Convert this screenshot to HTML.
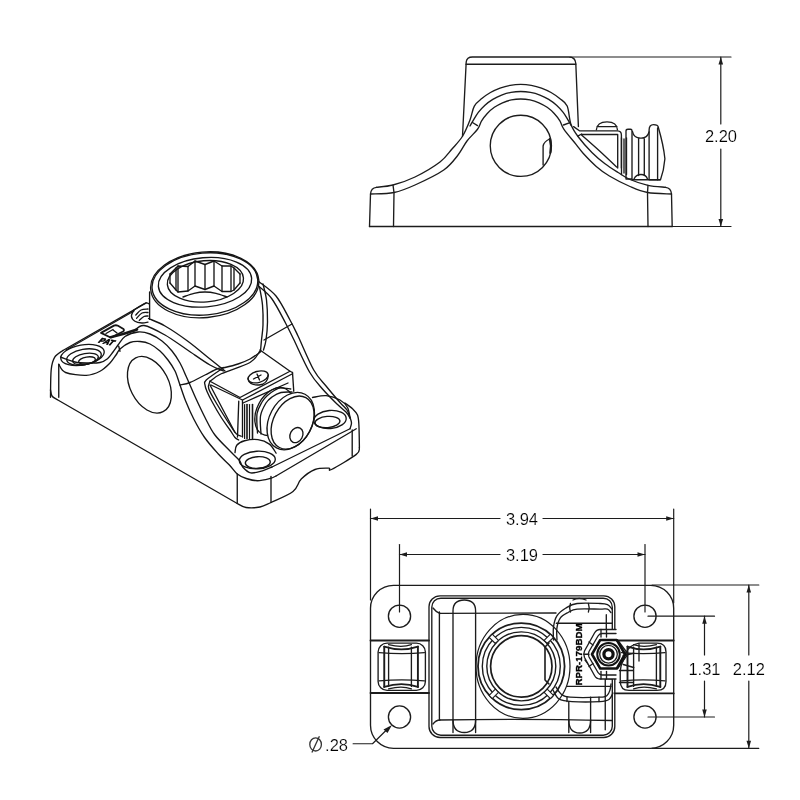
<!DOCTYPE html>
<html><head><meta charset="utf-8">
<style>
html,body{margin:0;padding:0;background:#fff;width:800px;height:800px;overflow:hidden}
svg{display:block;filter:blur(0.3px)}
.t{font-family:"Liberation Sans",sans-serif;font-size:16.5px;fill:#000;stroke:#fff;stroke-width:0.18px}
</style></head><body>
<svg width="800" height="800" viewBox="0 0 800 800">
<g fill="none" stroke="#1c1c1c" stroke-width="1.35" stroke-linejoin="round" stroke-linecap="round">
<path d="M369.50 226.50 L672.20 226.50"/>
<path d="M369.5 226.5 L370.5 194 Q371 187.8 376.5 187.3"/>
<path d="M672.2 226.5 L671.5 194 Q671 187.8 665.5 187.3"/>
<path d="M376.50 187.30 C379.25 186.92 386.58 186.72 393.00 185.00 C399.42 183.28 407.17 180.83 415.00 177.00 C422.83 173.17 433.83 166.67 440.00 162.00 C446.17 157.33 448.25 153.29 452.00 149.00 C455.75 144.71 459.50 141.08 462.50 136.25 C465.50 131.42 468.03 125.03 470.00 120.00 C471.97 114.97 472.36 109.62 474.33 106.05 C476.29 102.48 479.11 100.83 481.80 98.58 C484.48 96.32 487.41 94.27 490.45 92.52 C493.49 90.77 496.73 89.25 500.02 88.05 C503.32 86.85 506.77 85.93 510.23 85.32 C513.68 84.71 517.24 84.40 520.75 84.40 C524.26 84.40 527.82 84.71 531.27 85.32 C534.73 85.93 538.18 86.85 541.48 88.05 C544.77 89.25 548.01 90.77 551.05 92.52 C554.09 94.27 557.02 96.32 559.70 98.58 C562.39 100.83 565.29 101.74 567.17 106.05 C569.06 110.35 569.07 119.16 571.00 124.40 C572.93 129.64 575.27 132.83 578.75 137.50 C582.23 142.17 587.52 148.03 591.90 152.40 C596.27 156.78 600.63 160.40 605.00 163.75 C609.37 167.10 613.93 169.88 618.10 172.50 C622.27 175.12 625.02 177.37 630.00 179.50 C634.98 181.63 642.08 184.00 648.00 185.30 C653.92 186.60 662.58 186.97 665.50 187.30" />
<path d="M470.00 126.00 C470.51 125.12 471.70 122.97 473.08 120.71 C474.47 118.45 476.33 115.01 478.31 112.43 C480.28 109.85 482.54 107.42 484.95 105.24 C487.37 103.07 490.03 101.08 492.80 99.38 C495.57 97.69 498.54 96.22 501.58 95.05 C504.61 93.89 507.80 92.99 511.00 92.40 C514.20 91.80 517.50 91.50 520.75 91.50 C524.00 91.50 527.30 91.80 530.50 92.40 C533.70 92.99 536.89 93.89 539.92 95.05 C542.96 96.22 545.93 97.69 548.70 99.38 C551.47 101.08 554.13 103.07 556.55 105.24 C558.96 107.42 561.22 109.85 563.19 112.43 C565.17 115.01 567.03 118.45 568.42 120.71 C569.80 122.97 570.99 125.12 571.50 126.00" />
<path d="M370.50 194.00 C374.42 193.75 386.58 194.00 394.00 192.50 C401.42 191.00 406.71 188.75 415.00 185.00 C423.29 181.25 436.58 175.00 443.75 170.00 C450.92 165.00 454.12 159.83 458.00 155.00 C461.88 150.17 463.75 145.29 467.00 141.00 C470.25 136.71 475.09 132.63 477.52 129.27 C479.96 125.91 479.97 123.49 481.60 120.85 C483.23 118.21 485.16 115.69 487.29 113.43 C489.42 111.18 491.83 109.10 494.37 107.32 C496.91 105.54 499.68 103.99 502.53 102.76 C505.38 101.53 508.41 100.58 511.45 99.95 C514.48 99.32 517.65 99.00 520.75 99.00 C523.85 99.00 527.02 99.32 530.05 99.95 C533.09 100.58 536.12 101.53 538.97 102.76 C541.82 103.99 544.59 105.54 547.13 107.32 C549.67 109.10 552.08 111.18 554.21 113.43 C556.34 115.69 558.27 118.21 559.90 120.85 C561.53 123.49 561.25 125.31 563.98 129.27 C566.70 133.23 573.06 140.60 576.25 144.60 C579.44 148.60 579.77 149.62 583.10 153.25 C586.43 156.88 591.87 162.61 596.25 166.40 C600.63 170.19 603.77 172.65 609.40 176.00 C615.02 179.35 623.65 183.75 630.00 186.50 C636.35 189.25 640.58 191.25 647.50 192.50 C654.42 193.75 667.50 193.75 671.50 194.00" />
<path d="M393.00 185.20 L394.00 192.50 L393.50 226.50"/>
<path d="M648.00 185.30 L647.50 192.50 L648.00 226.50"/>
<path d="M472.50 122.50 L477.50 125.60"/>
<path d="M563.50 125.00 L569.30 122.80"/>
<circle cx="520.85" cy="145.8" r="30.6"/>
<path d="M543.1 165 V146 Q544 141.5 549.7 139"/>
<path d="M549.7 139 Q551.8 146 550.2 153" stroke-width="2"/>
<path d="M462.5 136.25 L466.2 62 Q466.7 57 472.5 57 H569 Q575.3 57 575.8 63.5 L578.4 126.6"/>
<path d="M466.00 64.20 L575.80 64.20"/>
<path d="M573.6 126.6 L579.4 130.8 H617.7 Q621.4 131 621.4 135 V168"/>
<path d="M581.60 134.50 L617.70 134.50 L617.70 168.00"/>
<path d="M581.60 135.00 C584.60 137.67 593.77 145.67 599.60 151.00 C605.43 156.33 613.77 164.33 616.60 167.00" />
<path d="M577.80 136.10 L581.60 134.00"/>
<path d="M596.4 129.8 Q597 121.8 607 121.8 Q617 121.8 617.4 129.8 M597 126.6 H617"/>
<path d="M621.5 137.8 V174.5 M624 139 V173 M626.5 137.8 V174.5"/>
<path d="M626 179 V131 Q626 129.2 628 129.2 H630.5 Q632 129.2 632 131 V179 Z"/>
<path d="M632.5 131.5 C634 140 647 140.5 649 132 M632 179.7 H660 M638.6 139 V175.5 M644.3 139 V175.5"/>
<path d="M634 179 Q636 174.5 641 174.5 Q646 174.5 647.5 179"/>
<path d="M649.1 179.7 V130 Q649.1 124.6 653.5 124.6 Q657.9 124.6 658.2 127 Q663.5 145 664.9 158.75 Q664 170 660.5 179.7 Z"/>
<path d="M657.60 128.00 L657.60 179.70"/>
<rect x="370.50" y="585.30" width="303.20" height="163.00" rx="23.00"/>
<circle cx="399.50" cy="616.20" r="11.1"/>
<circle cx="645.00" cy="616.20" r="11.1"/>
<circle cx="399.50" cy="717.00" r="11.1"/>
<circle cx="645.00" cy="717.00" r="11.1"/>
<path d="M370.5 640.5 H429 M370.5 693 H429" stroke-width="1.8"/>
<path d="M614.8 640.5 H673.7 M614.8 693.4 H673.7" stroke-width="1.8"/>
<rect x="378.10" y="643.10" width="47.30" height="47.30" rx="9.00"/>
<path d="M379.10 652.60 Q401.75 654.60 424.40 652.60 M379.10 680.90 Q401.75 678.90 424.40 680.90"/>
<path d="M384.25 646.60 V686.90 M417.90 646.60 V686.90" stroke-width="1.9"/>
<path d="M388.60 647.10 V686.40 M411.40 647.10 V686.40"/>
<path d="M384.25 646.60 Q401.75 652.10 417.90 646.60 M384.25 686.90 Q401.75 681.40 417.90 686.90" stroke-width="1.9"/>
<path d="M388.60 644.60 Q401.75 648.10 411.40 644.60 M388.60 688.90 Q401.75 685.40 411.40 688.90"/>
<path d="M639 643.1 H657 Q666 643.1 666 652 V681.5 Q666 690.4 657 690.4 H629 Q620.25 690.4 620.25 681 V671 Q620.5 666 623 661 L626 653 Q629 645 639 643.1 Z"/>
<path d="M621.50 652.60 Q643.25 654.60 665.00 652.60 M621.50 680.90 Q643.25 678.90 665.00 680.90"/>
<path d="M627.50 646.60 V686.90 M660.30 646.60 V686.90" stroke-width="1.9"/>
<path d="M633.60 647.10 V686.40 M656.40 647.10 V686.40"/>
<path d="M627.50 646.60 Q643.25 652.10 660.30 646.60 M627.50 686.90 Q643.25 681.40 660.30 686.90" stroke-width="1.9"/>
<path d="M633.60 644.60 Q643.25 648.10 656.40 644.60 M633.60 688.90 Q643.25 685.40 656.40 688.90"/>
<path d="M623.25 655.5 L633.75 653.25 M623.25 664.5 L633.75 667.5 M619.5 670.5 H633 M619.5 682.5 H633 M639 644 V661"/>
<rect x="429.00" y="595.80" width="185.80" height="141.70" rx="11.00"/>
<rect x="431.80" y="598.20" width="180.50" height="137.00" rx="9.00"/>
<path d="M439.4 612 V720 M439.4 613.3 Q500 613 556 613 M439.4 720 Q520 718.5 612 720.5"/>
<path d="M433 608 Q436 612 440 613.5 M433 724 Q436 720 440 720"/>
<path d="M453 732.5 V611 Q453 600 464.3 600 Q475.6 600 475.6 611 V732.5"/>
<path d="M453 720 Q453 732.5 464.3 732.5 Q475.6 732.5 475.6 720"/>
<path d="M568.8 732.5 V701.6 M590.6 732.5 V701.6"/>
<path d="M568.8 720 Q568.8 733 579.7 733 Q590.6 733 590.6 720"/>
<circle cx="521.3" cy="666.35" r="30.7" stroke-width="1.7"/>
<circle cx="521.3" cy="666.35" r="34.5" stroke-width="1.4"/>
<circle cx="521.3" cy="666.35" r="39.0" stroke-width="1.4"/>
<circle cx="521.3" cy="666.35" r="43.3" stroke-width="1.8"/>
<ellipse cx="523" cy="666.35" rx="47" ry="52" stroke-width="1.2"/>
<path d="M545 647 V680 M545 647 L549 643 M545 680 L549 684" stroke-width="1.6"/>
<path d="M544.14 692.30 L550.36 698.52 L553.47 695.41 L547.25 689.19 Z" fill="#fff" stroke-width="1.1"/>
<path d="M495.35 689.19 L489.13 695.41 L492.24 698.52 L498.46 692.30 Z" fill="#fff" stroke-width="1.1"/>
<path d="M498.46 640.40 L492.24 634.18 L489.13 637.29 L495.35 643.51 Z" fill="#fff" stroke-width="1.1"/>
<path d="M547.25 643.51 L553.47 637.29 L550.36 634.18 L544.14 640.40 Z" fill="#fff" stroke-width="1.1"/>
<path d="M553.50 640.00 C553.50 637.83 552.93 631.02 553.50 627.00 C554.07 622.98 554.83 619.07 556.90 615.90 C558.97 612.73 562.53 610.07 565.90 608.00 C569.27 605.93 571.42 604.25 577.10 603.50 C582.78 602.75 594.93 603.32 600.00 603.50 C605.07 603.68 605.50 603.68 607.50 604.60 C609.50 605.52 611.25 608.27 612.00 609.00" />
<path d="M557.00 640.00 C556.98 638.03 556.36 631.85 556.90 628.20 C557.44 624.55 558.38 620.72 560.25 618.10 C562.12 615.48 565.29 614.00 568.10 612.50 C570.91 611.00 571.78 609.67 577.10 609.10 C582.42 608.53 594.93 609.10 600.00 609.10 C605.07 609.10 605.68 608.53 607.50 609.10 C609.32 609.67 610.33 611.93 610.90 612.50" />
<path d="M570.4 603.5 Q569 608 570.4 612 M588.4 603.5 Q590 608 588.4 612 M573 600 Q579 597 586 600"/>
<path d="M556.30 623.20 L612.00 623.20"/>
<path d="M606.30 614.70 L606.30 630.50"/>
<path d="M556.00 687.00 C556.83 688.17 558.67 692.30 561.00 694.00 C563.33 695.70 563.50 696.67 570.00 697.20 C576.50 697.73 593.83 697.48 600.00 697.20 C606.17 696.92 605.33 696.70 607.00 695.50 C608.67 694.30 609.33 691.92 610.00 690.00 C610.67 688.08 610.83 685.00 611.00 684.00" />
<path d="M553.00 690.00 C554.00 691.50 555.83 697.07 559.00 699.00 C562.17 700.93 565.17 701.17 572.00 701.60 C578.83 702.03 593.83 701.95 600.00 701.60 C606.17 701.25 606.83 700.93 609.00 699.50 C611.17 698.07 612.33 694.08 613.00 693.00" />
<path d="M567 697.2 V701.6 M590.6 697.2 V701.6 M599 697.2 V701.6"/>
<path d="M567.00 686.40 L611.00 686.40"/>
<path d="M605.25 669.00 L605.25 729.70"/>
<path d="M585.00 660.00 C586.88 662.43 593.25 671.60 596.25 674.60 C599.25 677.60 600.38 677.27 603.00 678.00 C605.62 678.73 610.50 678.83 612.00 679.00" />
<path d="M616 629.5 H600 Q596.5 629.5 594.5 633 L584.5 651 Q583 654.25 584.5 657.5 L594.5 675.5 Q596.5 679 600 679 H616" fill="#fff"/>
<path d="M616 633.5 H602 Q599.5 633.5 598 636 L589 651.5 Q587.5 654.25 589 657 L598 672.5 Q599.5 675 602 675 H616"/>
<path d="M601.0 629.5 L601.0 637.0"/>
<path d="M606.5 629.5 L606.5 637.0"/>
<path d="M589.0 642.0 L593.0 645.0"/>
<path d="M584.0 654.2 L589.0 654.2"/>
<path d="M589.0 666.5 L593.0 663.5"/>
<path d="M601.0 671.5 L601.0 679.0"/>
<path d="M606.5 671.5 L606.5 679.0"/>
<path d="M618.00 640.50 L625.00 650.00 L628.00 654.25"/>
<path d="M618.00 668.00 L625.00 658.00 L628.00 654.25"/>
<g stroke-width="2.6" stroke="#111"><path d="M625.00 654.25 L616.75 668.54 L600.25 668.54 L592.00 654.25 L600.25 639.96 L616.75 639.96 Z"/></g>
<circle cx="608.50" cy="654.25" r="11.25" stroke-width="2" stroke="#111"/>
<circle cx="608.50" cy="654.25" r="8.8" stroke-width="1.3"/>
<circle cx="608.50" cy="654.25" r="4.6" stroke-width="3.2" stroke="#111"/>
<text x="0" y="0" transform="translate(581.8 654.5) rotate(-90)" text-anchor="middle" style="font-family:'Liberation Sans',sans-serif;font-weight:bold;font-size:9.7px;fill:#000;stroke:#000;stroke-width:0.35">RPR-179BDM</text>
<g stroke="#151515" stroke-width="1.35"><ellipse cx="204.75" cy="284.80" rx="54.25" ry="32.80" transform="rotate(-5.0 204.75 284.80)" />
<ellipse cx="204.90" cy="284.00" rx="53.00" ry="31.00" transform="rotate(-5.0 204.90 284.00)" />
<ellipse cx="205.00" cy="282.30" rx="46.80" ry="24.60" transform="rotate(-5.0 205.00 282.30)" />
<ellipse cx="205.40" cy="281.30" rx="38.20" ry="20.60" transform="rotate(-5.0 205.40 281.30)" />
<path d="M170.0 274.0 L176.0 268.0 L178.0 266.0 L188.0 266.5 L195.0 261.0 L205.0 264.5 L214.0 261.0 L222.0 266.0 L231.0 266.0 L234.0 268.0 L240.0 274.0"/>
<path d="M170.0 283.0 L176.0 290.0 L178.0 292.0 L188.0 291.0 L195.0 286.0 L205.0 289.5 L214.0 286.0 L222.0 291.5 L231.0 291.5 L234.0 290.0 L240.0 283.0"/>
<path d="M170.00 274.00 L170.00 283.00"/>
<path d="M176.00 268.00 L176.00 290.00"/>
<path d="M178.00 266.00 L178.00 292.00"/>
<path d="M188.00 266.50 L188.00 291.00"/>
<path d="M195.00 261.00 L195.00 286.00"/>
<path d="M205.00 264.50 L205.00 289.50"/>
<path d="M214.00 261.00 L214.00 286.00"/>
<path d="M222.00 266.00 L222.00 291.50"/>
<path d="M231.00 266.00 L231.00 291.50"/>
<path d="M234.00 268.00 L234.00 290.00"/>
<path d="M240.00 274.00 L240.00 283.00"/>
<path d="M183.00 297.00 C184.83 296.38 190.33 294.13 194.00 293.30 C197.67 292.47 201.33 292.00 205.00 292.00 C208.67 292.00 212.33 292.47 216.00 293.30 C219.67 294.13 225.17 296.38 227.00 297.00" />
<path d="M149.60 292.00 L149.60 319.40"/>
<path d="M259.50 287.00 C260.00 290.00 261.92 298.67 262.50 305.00 C263.08 311.33 263.17 319.17 263.00 325.00 C262.83 330.83 261.92 335.67 261.50 340.00 C261.08 344.33 260.67 349.17 260.50 351.00" />
<path d="M263.00 284.00 C263.58 286.67 265.75 293.67 266.50 300.00 C267.25 306.33 267.58 315.33 267.50 322.00 C267.42 328.67 266.67 335.33 266.00 340.00 C265.33 344.67 263.92 348.33 263.50 350.00" />
<path d="M148.50 318.50 C151.25 319.75 158.50 322.25 165.00 326.00 C171.50 329.75 180.00 335.50 187.50 341.00 C195.00 346.50 203.75 354.00 210.00 359.00 C216.25 364.00 222.50 369.00 225.00 371.00" />
<path d="M134.00 331.00 C135.67 330.08 138.83 324.83 144.00 325.50 C149.17 326.17 157.75 330.92 165.00 335.00 C172.25 339.08 180.00 345.00 187.50 350.00 C195.00 355.00 204.00 361.50 210.00 365.00 C216.00 368.50 221.25 370.00 223.50 371.00" />
<path d="M260.75 351.75 C258.96 352.96 253.79 356.96 250.00 359.00 C246.21 361.04 242.17 362.58 238.00 364.00 C233.83 365.42 228.42 366.71 225.00 367.50 C221.58 368.29 220.83 367.50 217.50 368.75 C214.17 370.00 209.58 372.71 205.00 375.00 C200.42 377.29 194.17 380.83 190.00 382.50 C185.83 384.17 181.67 384.58 180.00 385.00" />
<path d="M259.00 281.75 C261.83 284.12 270.83 289.62 276.00 296.00 C281.17 302.38 286.33 313.33 290.00 320.00 C293.67 326.67 294.04 327.67 298.00 336.00 C301.96 344.33 309.04 361.62 313.75 370.00 C318.46 378.38 321.88 380.83 326.25 386.25 C330.62 391.67 336.54 398.54 340.00 402.50 C343.46 406.46 345.33 407.50 347.00 410.00 C348.67 412.50 349.50 416.25 350.00 417.50" />
<path d="M259.00 286.50 C261.17 288.58 267.58 292.92 272.00 299.00 C276.42 305.08 281.92 316.33 285.50 323.00 C289.08 329.67 289.50 330.83 293.50 339.00 C297.50 347.17 304.67 363.67 309.50 372.00 C314.33 380.33 317.92 383.67 322.50 389.00 C327.08 394.33 333.08 400.17 337.00 404.00 C340.92 407.83 343.83 409.67 346.00 412.00 C348.17 414.33 349.33 417.00 350.00 418.00" />
<path d="M264.00 340.00 L292.00 324.00"/>
<path d="M50.50 397.30 C50.62 392.72 50.52 376.45 51.20 369.80 C51.88 363.15 52.65 360.62 54.60 357.40 C56.55 354.18 61.52 351.65 62.90 350.50" />
<path d="M62.90 350.50 L146.25 302.90"/>
<path d="M66 350 L134 311" stroke-width="1.1"/>
<path d="M58.75 364.30 L58.75 397.30"/>
<path d="M58.75 364.30 C59.89 365.67 61.01 370.67 65.60 372.50 C70.19 374.33 80.57 375.51 86.30 375.30 C92.03 375.09 96.05 373.30 100.00 371.25 C103.95 369.20 107.33 365.71 110.00 363.00 C112.67 360.29 114.33 357.33 116.00 355.00 C117.67 352.67 117.67 351.08 120.00 349.00 C122.33 346.92 126.67 343.75 130.00 342.50 C133.33 341.25 136.67 341.25 140.00 341.50 C143.33 341.75 146.67 342.42 150.00 344.00 C153.33 345.58 157.00 348.33 160.00 351.00 C163.00 353.67 165.50 356.67 168.00 360.00 C170.50 363.33 173.00 366.83 175.00 371.00 C177.00 375.17 178.21 379.96 180.00 385.00 C181.79 390.04 183.46 395.58 185.75 401.25 C188.04 406.92 190.61 412.96 193.75 419.00 C196.89 425.04 200.54 431.71 204.60 437.50 C208.66 443.29 213.97 449.17 218.10 453.75 C222.23 458.33 226.21 461.62 229.40 465.00 C232.59 468.38 234.44 471.75 237.25 474.00 C240.06 476.25 242.88 477.38 246.25 478.50 C249.62 479.62 253.54 480.75 257.50 480.75 C261.46 480.75 266.92 479.29 270.00 478.50 C273.08 477.71 275.00 476.42 276.00 476.00" />
<path d="M60.50 357.00 C62.92 357.83 70.42 361.00 75.00 362.00 C79.58 363.00 83.83 362.92 88.00 363.00 C92.17 363.08 96.75 363.21 100.00 362.50 C103.25 361.79 105.33 360.50 107.50 358.75 C109.67 357.00 111.25 354.29 113.00 352.00 C114.75 349.71 116.00 347.58 118.00 345.00 C120.00 342.42 121.67 338.67 125.00 336.50 C128.33 334.33 133.83 332.42 138.00 332.00 C142.17 331.58 146.00 332.50 150.00 334.00 C154.00 335.50 158.33 338.17 162.00 341.00 C165.67 343.83 169.00 347.33 172.00 351.00 C175.00 354.67 177.67 358.83 180.00 363.00 C182.33 367.17 184.33 372.33 186.00 376.00 C187.67 379.67 188.33 381.21 190.00 385.00 C191.67 388.79 193.50 393.33 196.00 398.75 C198.50 404.17 201.88 411.50 205.00 417.50 C208.12 423.50 210.50 429.08 214.75 434.75 C219.00 440.42 226.38 447.21 230.50 451.50 C234.62 455.79 237.43 457.88 239.50 460.50 C241.57 463.12 241.03 465.18 242.90 467.25 C244.78 469.32 247.38 472.34 250.75 472.90 C254.12 473.46 259.56 471.58 263.10 470.60 C266.64 469.62 270.52 467.60 272.00 467.00" />
<path d="M118.75 346.25 L120.00 351.25"/>
<ellipse cx="82.50" cy="355.00" rx="22.00" ry="10.00" transform="rotate(-10.0 82.50 355.00)" />
<ellipse cx="84.00" cy="357.00" rx="17.50" ry="7.80" transform="rotate(-10.0 84.00 357.00)" />
<ellipse cx="85.50" cy="359.00" rx="13.00" ry="5.50" transform="rotate(-10.0 85.50 359.00)" />
<ellipse cx="87.00" cy="360.50" rx="8.50" ry="3.50" transform="rotate(-10.0 87.00 360.50)" />
<path d="M134.00 310.00 C133.57 311.00 131.25 314.12 131.40 316.00 C131.55 317.88 133.15 320.08 134.90 321.25 C136.65 322.42 139.72 322.86 141.90 323.00 C144.08 323.14 146.98 322.25 148.00 322.10" />
<path d="M134.00 310.00 C135.17 309.25 138.96 306.68 141.00 305.50 C143.04 304.32 144.93 303.19 146.25 302.90 C147.57 302.61 148.46 303.61 148.90 303.75" />
<path d="M135.75 315.10 C136.62 314.25 138.96 311.02 141.00 310.00 C143.04 308.98 146.83 309.17 148.00 309.00" />
<path d="M136.60 318.20 C137.50 317.33 140.10 313.95 142.00 313.00 C143.90 312.05 147.00 312.58 148.00 312.50" />
<path d="M139.25 320.40 C140.04 319.75 142.54 317.23 144.00 316.50 C145.46 315.77 147.33 316.08 148.00 316.00" />
<path d="M101 332.9 L113.9 325.6 Q116 324.8 118 325.8 L123.5 329 Q124.5 330.5 123 331.5 L112 337 Q110.6 337.8 109.5 337 Z" stroke-width="1.8"/>
<path d="M113 330 L117 333 M106 333.5 L113 329.5" stroke-width="1.4"/>
<path d="M110.6 337.2 Q123 334.5 137 329.5" stroke-width="2.6"/>
<text x="0" y="0" transform="translate(97.5 342.5) rotate(12) skewX(-30)" style="font-family:'Liberation Sans',sans-serif;font-weight:bold;font-size:8px;fill:#000;stroke:#000;stroke-width:0.6">PAT</text>
<path d="M50.50 390.00 C50.75 391.00 50.92 394.42 52.00 396.00 C53.08 397.58 56.17 398.92 57.00 399.50" />
<path d="M57.00 399.50 L237.25 503.50"/>
<ellipse cx="149.40" cy="384.80" rx="19.30" ry="30.20" transform="rotate(-27.0 149.40 384.80)" />
<path d="M223.75 367.50 C220.83 369.58 209.38 377.08 206.25 380.00 C203.12 382.92 204.89 383.12 205.00 385.00 C205.11 386.88 205.65 388.33 206.90 391.25 C208.15 394.17 210.11 398.12 212.50 402.50 C214.89 406.88 218.33 412.92 221.25 417.50 C224.17 422.08 227.71 426.67 230.00 430.00 C232.29 433.33 233.54 435.83 235.00 437.50 C236.46 439.17 238.12 439.58 238.75 440.00" />
<path d="M210.00 381.25 C209.79 382.50 207.50 384.79 208.75 388.75 C210.00 392.71 213.96 398.96 217.50 405.00 C221.04 411.04 226.88 420.21 230.00 425.00 C233.12 429.79 234.38 431.88 236.25 433.75 C238.12 435.62 240.42 435.83 241.25 436.25" />
<path d="M210.00 381.25 C211.88 380.00 214.58 376.88 221.25 373.75 C227.92 370.62 243.54 366.29 250.00 362.50 C256.46 358.71 258.33 352.92 260.00 351.00" />
<path d="M260.00 350.00 L290.00 371.25 L292.50 372.50"/>
<path d="M210.00 381.25 L240.00 397.50 L290.00 371.25"/>
<path d="M211.00 385.00 L242.50 400.00 L292.50 373.75"/>
<path d="M292.50 372.50 L293.75 391.25"/>
<path d="M210.00 385.00 L235.00 432.50"/>
<path d="M238.75 401.25 L237.50 437.00"/>
<path d="M242.50 400.50 L242.50 437.00"/>
<path d="M244.6 404.5 V438.5" stroke-width="1.2"/>
<path d="M247.0 404.5 V438.5" stroke-width="1.6"/>
<path d="M249.5 404.5 V438.5" stroke-width="1.2"/>
<path d="M252.5 404.5 V438.5" stroke-width="1.6"/>
<path d="M243.00 403.00 L288.00 383.00"/>
<ellipse cx="258.10" cy="376.90" rx="10.30" ry="5.60" transform="rotate(-15.0 258.10 376.90)" />
<path d="M248 378.5 Q249 385.5 259 385 Q268 384 268.3 375"/>
<path d="M253.5 379 L261 375 M257 374 L259.5 380"/>
<path d="M235.00 452.60 C235.29 451.38 235.15 447.23 236.75 445.25 C238.35 443.27 241.06 441.69 244.60 440.75 C248.14 439.81 253.87 439.04 258.00 439.60 C262.13 440.16 266.38 441.85 269.40 444.10 C272.42 446.35 274.98 451.60 276.10 453.10" />
<ellipse cx="257.30" cy="460.00" rx="18.00" ry="8.80" transform="rotate(-3.0 257.30 460.00)" />
<ellipse cx="257.80" cy="462.50" rx="12.50" ry="5.80" transform="rotate(-3.0 257.80 462.50)" />
<path d="M312.50 397.50 C314.79 397.18 321.67 395.18 326.25 395.60 C330.83 396.02 336.46 398.02 340.00 400.00 C343.54 401.98 345.83 404.58 347.50 407.50 C349.17 410.42 349.58 415.83 350.00 417.50" />
<ellipse cx="330.00" cy="419.50" rx="16.25" ry="9.00" transform="rotate(-5.0 330.00 419.50)" />
<ellipse cx="327.50" cy="422.00" rx="12.50" ry="5.60" transform="rotate(-5.0 327.50 422.00)" />
<ellipse cx="274.00" cy="411.50" rx="17.00" ry="25.50" transform="rotate(28.0 274.00 411.50)" fill="#fff"/>
<path d="M257.50 433.00 C257.42 429.79 256.25 418.92 257.00 413.75 C257.75 408.58 260.32 405.00 262.00 402.00 C263.68 399.00 264.93 397.75 267.10 395.75 C269.27 393.75 272.75 391.31 275.00 390.00 C277.25 388.69 277.98 388.07 280.60 387.90 C283.23 387.73 289.06 388.82 290.75 389.00" />
<path d="M261.00 434.00 C260.92 431.00 259.67 421.17 260.50 416.00 C261.33 410.83 264.08 406.17 266.00 403.00 C267.92 399.83 269.50 398.75 272.00 397.00 C274.50 395.25 277.67 393.33 281.00 392.50 C284.33 391.67 290.17 392.08 292.00 392.00" />
<ellipse cx="290.75" cy="421.10" rx="21.50" ry="30.40" transform="rotate(28.0 290.75 421.10)" fill="#fff"/>
<ellipse cx="292.60" cy="422.60" rx="19.20" ry="28.20" transform="rotate(28.0 292.60 422.60)" />
<ellipse cx="296.40" cy="435.10" rx="6.20" ry="7.90" transform="rotate(28.0 296.40 435.10)" />
<path d="M272.00 467.00 L350.00 428.75"/>
<path d="M276.00 476.00 L350.00 432.50 L356.25 428.75"/>
<path d="M345.00 403.00 C346.25 403.96 350.42 406.75 352.50 408.75 C354.58 410.75 356.43 412.29 357.50 415.00 C358.57 417.71 358.58 419.58 358.90 425.00 C359.22 430.42 359.32 443.75 359.40 447.50" />
<path d="M350.00 417.50 C350.25 418.42 351.50 421.12 351.50 423.00 C351.50 424.88 350.25 427.79 350.00 428.75" />
<path d="M237.25 474.00 L237.25 503.50"/>
<path d="M271.00 476.40 L271.00 502.50"/>
<path d="M352.20 430.00 L352.20 456.00"/>
<path d="M237.25 503.50 C238.71 504.17 242.21 506.92 246.00 507.50 C249.79 508.08 255.83 507.83 260.00 507.00 C264.17 506.17 265.50 505.08 271.00 502.50 C276.50 499.92 287.96 495.40 293.00 491.50 C298.04 487.60 297.58 482.77 301.25 479.10 C304.92 475.43 310.42 471.33 315.00 469.50 C319.58 467.67 326.00 468.10 328.75 468.10 C331.50 468.10 326.91 471.78 331.50 469.50 C336.09 467.22 351.65 458.07 356.30 454.40 C360.95 450.73 358.88 448.65 359.40 447.50" /></g>
<g stroke-width="1.2">
<path d="M570.00 57.00 L731.00 57.00"/>
<path d="M672.20 226.50 L731.00 226.50"/>
<path d="M720.80 57.00 L720.80 124.00"/>
<path d="M720.80 149.00 L720.80 226.50"/>
<path d="M720.80 57.00 L718.50 64.50 L723.10 64.50 Z" fill="#1c1c1c" stroke="none"/>
<path d="M720.80 226.50 L718.50 219.00 L723.10 219.00 Z" fill="#1c1c1c" stroke="none"/>
<path d="M370.50 509.00 L370.50 600.00"/>
<path d="M673.70 509.00 L673.70 603.00"/>
<path d="M370.50 518.50 L500.00 518.50"/>
<path d="M543.00 518.50 L673.70 518.50"/>
<path d="M370.50 518.50 L378.00 516.20 L378.00 520.80 Z" fill="#1c1c1c" stroke="none"/>
<path d="M673.70 518.50 L666.20 516.20 L666.20 520.80 Z" fill="#1c1c1c" stroke="none"/>
<path d="M399.50 544.50 L399.50 612.00"/>
<path d="M645.00 544.50 L645.00 612.00"/>
<path d="M399.50 554.50 L500.00 554.50"/>
<path d="M543.00 554.50 L645.00 554.50"/>
<path d="M399.50 554.50 L407.00 552.20 L407.00 556.80 Z" fill="#1c1c1c" stroke="none"/>
<path d="M645.00 554.50 L637.50 552.20 L637.50 556.80 Z" fill="#1c1c1c" stroke="none"/>
<path d="M652.00 585.00 L758.80 585.00"/>
<path d="M652.00 748.30 L758.80 748.30"/>
<path d="M748.80 585.00 L748.80 655.00"/>
<path d="M748.80 681.00 L748.80 748.30"/>
<path d="M748.80 585.00 L746.50 592.50 L751.10 592.50 Z" fill="#1c1c1c" stroke="none"/>
<path d="M748.80 748.30 L746.50 740.80 L751.10 740.80 Z" fill="#1c1c1c" stroke="none"/>
<path d="M648.00 616.20 L714.50 616.20"/>
<path d="M648.00 717.00 L714.50 717.00"/>
<path d="M704.50 616.20 L704.50 655.00"/>
<path d="M704.50 681.00 L704.50 717.00"/>
<path d="M704.50 616.20 L702.20 623.70 L706.80 623.70 Z" fill="#1c1c1c" stroke="none"/>
<path d="M704.50 717.00 L702.20 709.50 L706.80 709.50 Z" fill="#1c1c1c" stroke="none"/>
<path d="M353.10 743.75 L372.50 743.75 L389.00 727.50"/>
<path d="M392 725 L383.5 729.5 L387.5 733 Z" fill="#1c1c1c" stroke="none"/>
</g>
</g>
<text x="721.0" y="142.0" text-anchor="middle" class="t">2.20</text>
<text x="522.0" y="524.5" text-anchor="middle" class="t">3.94</text>
<text x="522.0" y="560.5" text-anchor="middle" class="t">3.19</text>
<text x="704.5" y="674.5" text-anchor="middle" class="t">1.31</text>
<text x="748.8" y="674.5" text-anchor="middle" class="t">2.12</text>
<text x="348" y="750.6" text-anchor="end" class="t">.28</text>
<g fill="none" stroke="#333" stroke-width="1.3"><ellipse cx="315.6" cy="744.4" rx="5.8" ry="6.6"/><path d="M311.9 752.5 L319.4 736.2"/></g>
</svg>
</body></html>
